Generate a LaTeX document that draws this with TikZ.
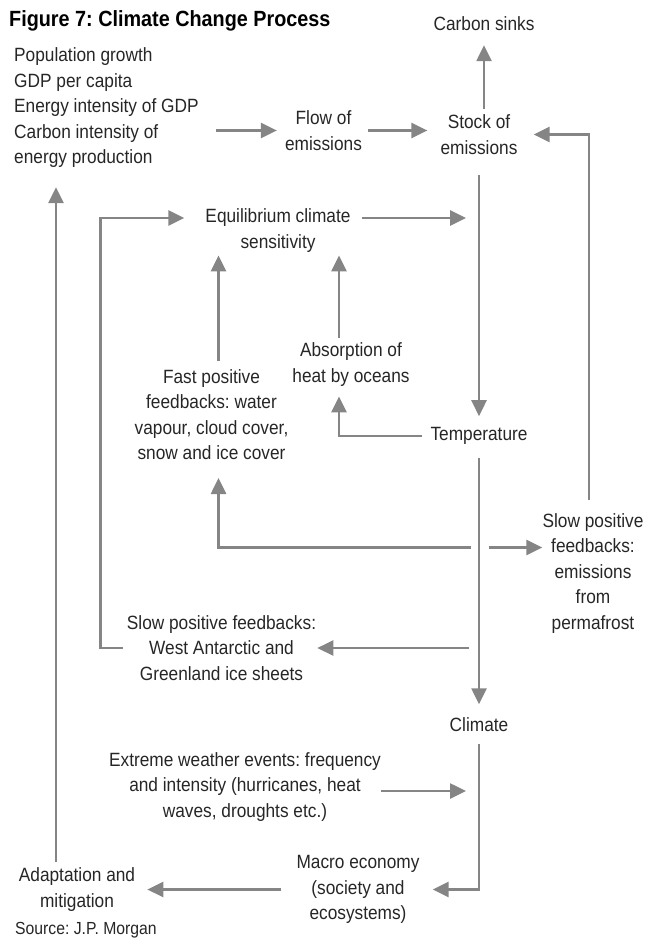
\documentclass[tikz,border=0pt]{standalone}
\usepackage{fontspec}
\setmainfont{Liberation Sans}[FakeStretch=0.9]
\usepackage{tikz}
\usetikzlibrary{arrows.meta, positioning}
\definecolor{txtgray}{HTML}{262626}
\definecolor{arrgray}{HTML}{858585}
\frenchspacing

\begin{document}
\begin{tikzpicture}[x=1pt, y=-1pt, on grid, node distance=300pt,
	box/.style={align=center, inner sep=0pt, text=txtgray, font=\fontsize{19.2}{25.5}\selectfont},
	arr/.style={color=arrgray, line width=2.6pt, -{Triangle[length=16pt, width=15pt]}}]
	\useasboundingbox (0,0) rectangle (646,941);

	\node[box, anchor=west, text=black, font=\bfseries\fontsize{22}{26}\selectfont] (Title) at (9,21) {Figure 7: Climate Change Process};
	\node[box, anchor=west, align=left] (Drv) at (14,108) {Population growth\\GDP per capita\\Energy intensity of GDP\\Carbon intensity of\\energy production};
	\node[box] (Flow) at (323.5,130.5) {Flow of\\emissions};
	\node[box] (Stock) at (479,134.5) {Stock of\\emissions};
	\node[box] (Sinks) at (484,24) {Carbon sinks};
	\node[box, below=301.5pt of Stock] (Temp) {Temperature};
	\node[box, below=288.5pt of Temp] (Clim) {Climate};
	\node[box] (Equil) at (278,230.5) {Equilibrium climate\\sensitivity};
	\node[box] (Absorb) at (351,364.5) {Absorption of\\heat by oceans};
	\node[box] (Fast) at (211.5,414.5) {Fast positive\\feedbacks: water\\vapour, cloud cover,\\snow and ice cover};
	\node[box] (Perma) at (593,573.5) {Slow positive\\feedbacks:\\emissions\\from\\permafrost};
	\node[box] (West) at (221.5,648) {Slow positive feedbacks:\\West Antarctic and\\Greenland ice sheets};
	\node[box] (Extr) at (245,787) {Extreme weather events: frequency\\and intensity (hurricanes, heat\\waves, droughts etc.)};
	\node[box] (Macro) at (358,889.5) {Macro economy\\(society and\\ecosystems)};
	\node[box] (Adapt) at (77,889.5) {Adaptation and\\mitigation};
	\node[box, anchor=west, font=\fontsize{17.5}{20}\selectfont] (Src) at (15,930) {Source: J.P. Morgan};

	% points on the node edges
	\coordinate (E0) at ([yshift=12.5pt]Equil.west);
	\coordinate (E1) at ([yshift=12.5pt]Equil.east);
	\coordinate (F1) at ([xshift=7pt]Fast.north);
	\coordinate (A1) at ([xshift=-12pt]Absorb.north);
	\coordinate (P1) at ([xshift=-4pt]Perma.north);
	\coordinate (P2) at ([yshift=26pt]Perma.west);
	\coordinate (X1) at ([yshift=-4pt]Extr.east);
	\coordinate (D1) at ([xshift=-21pt]Adapt.north);

	\path[arr]
	(Drv.east |- Flow.west) edge[shorten <=17pt, shorten >=8pt] (Flow.west)
	(Flow.east) edge[shorten <=6pt, shorten >=13pt] (Flow.east -| Stock.west)
	(Sinks |- Stock.north) edge[shorten <=5pt, shorten >=14pt] (Sinks.south)
	(Stock.south) edge[shorten <=21pt, shorten >=11pt] (Temp.north)
	(Temp.south) edge[shorten <=13pt, shorten >=13pt] (Clim.north)
	(E1) edge[shorten <=11pt, shorten >=13pt] (E1 -| Stock)
	(F1) edge[shorten <=8pt, shorten >=3pt] (F1 |- Equil.south)
	(A1) edge[shorten <=5pt, shorten >=3pt] (A1 |- Equil.south)
	(P2 -| Temp) edge[shorten <=10pt] (P2)
	(West.east -| Temp) edge[shorten <=10pt, shorten >=1pt] (West.east)
	(X1) edge[shorten >=13pt] (X1 -| Clim)
	(Macro.west) edge[shorten <=15pt, shorten >=12pt] (Adapt.east)
	(D1) edge[shorten <=6pt, shorten >=19pt] (D1 |- Drv.south);

	\draw[arr, shorten <=13pt, shorten >=16pt] (P1) |- (Stock.east);
	\draw[arr, shorten <=8pt, shorten >=10pt] (Temp.west) -| ([xshift=-12pt]Absorb.south);
	\draw[arr, shorten <=8pt, shorten >=18pt] (P2 -| Temp) -| ([xshift=7pt]Fast.south);
	\draw[arr, shorten <=4pt, shorten >=21pt] (West.west) -- ++(-26pt,0) |- (E0);
	\draw[arr, shorten <=12pt, shorten >=13pt] (Clim.south) |- (Macro.east);
\end{tikzpicture}
\end{document}
